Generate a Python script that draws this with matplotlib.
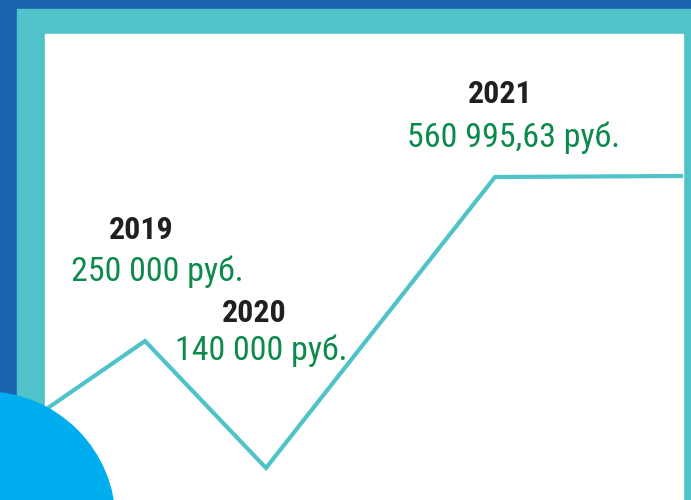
import matplotlib
matplotlib.use("Agg")
import matplotlib.pyplot as plt
from matplotlib.patches import Rectangle, Ellipse

# data
years = ["2019", "2020", "2021"]
amounts = ["250 000 руб.", "140 000 руб.", "560 995,63 руб."]
# decorative line (pixel-like units of the picture, y down)
line_x = [45, 145, 266, 495, 681]
line_y = [410, 341, 468, 177, 176]

# label anchors (center x, baseline y) for year and amount
year_pos = [(141, 239), (254, 322), (500, 103)]
amount_pos = [(157, 281), (261, 360), (514, 147)]

plt.rcParams['font.family'] = ['Roboto Condensed', 'DejaVu Sans']

dark_blue = '#1b63ae'
teal = '#4fc3c9'
cyan = '#00adee'
green = '#0c8a4c'
black = '#231f20'

fig = plt.figure(figsize=(6.91, 5.0), dpi=100)
ax = fig.add_axes([0, 0, 1, 1])
ax.set_xlim(0, 691)
ax.set_ylim(500, 0)
ax.axis('off')

# frame
ax.add_patch(Rectangle((0, 0), 691, 500, color=dark_blue, zorder=0))
ax.add_patch(Rectangle((17, 9), 691 - 17, 500, color=teal, zorder=1))
ax.add_patch(Rectangle((45, 34), 683 - 45, 500, color='white', zorder=2))

# line
ax.plot(line_x, line_y, color=teal, lw=3.0, solid_joinstyle='miter', zorder=3)

# blob bottom-left
ax.add_patch(Ellipse((-15, 522), 260, 260, color=cyan, zorder=4))

for yr, (x, y) in zip(years, year_pos):
    ax.text(x, y, yr, fontsize=23, fontweight='bold', color=black,
            ha='center', va='baseline', zorder=5)
for am, (x, y) in zip(amounts, amount_pos):
    ax.text(x, y, am, fontsize=24.5, color=green,
            ha='center', va='baseline', zorder=5)

fig.savefig("out.png", dpi=100)
